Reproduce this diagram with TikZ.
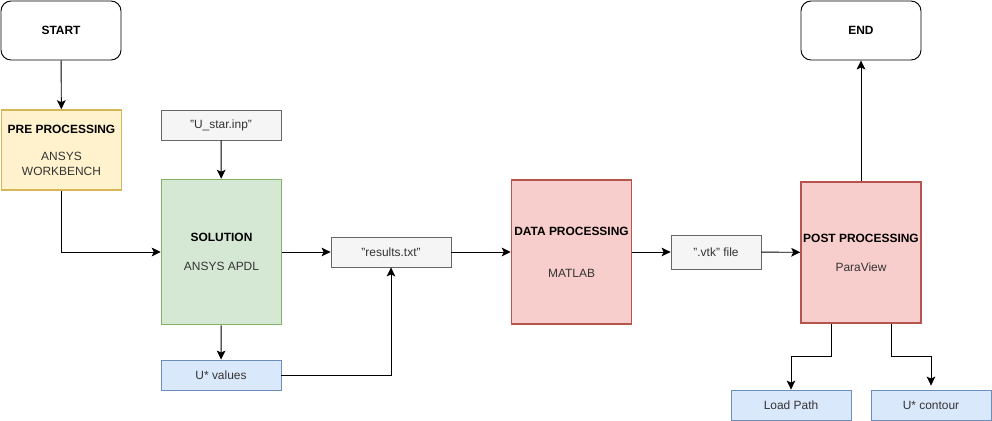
\documentclass[tikz,border=0pt]{standalone}
\usepackage{fontspec}
\setmainfont{Liberation Sans}
\usepackage{tikz}
\usetikzlibrary{arrows.meta, positioning}

\definecolor{yellowfill}{HTML}{FFF2CC}
\definecolor{yellowline}{HTML}{D6B656}
\definecolor{greenfill}{HTML}{D5E8D4}
\definecolor{greenline}{HTML}{82B366}
\definecolor{redfill}{HTML}{F8CECC}
\definecolor{redline}{HTML}{B85450}
\definecolor{bluefill}{HTML}{DAE8FC}
\definecolor{blueline}{HTML}{6C8EBF}
\definecolor{grayfill}{HTML}{F5F5F5}
\definecolor{grayline}{HTML}{666666}
\definecolor{graytext}{HTML}{333333}

\begin{document}
\begin{tikzpicture}[x=0.3mm, y=-0.3mm, font=\fontsize{10.2}{12.8}\selectfont]
        % Setup the styles for the boxes
        \tikzset{box style/.style={rectangle,
                                   draw,
                                   inner sep=0pt,
                                   align=center,
                                   minimum width=36mm,
                                   minimum height=9mm},
                 end style/.style={box style,
                                   rounded corners=3mm,
                                   minimum height=17.7mm,
                                   line width=0.8pt},
                 step style/.style={box style,
                                    line width=1.3pt,
                                    text=graytext},
                 file style/.style={box style,
                                    line width=0.7pt,
                                    draw=grayline,
                                    fill=grayfill,
                                    text=graytext},
                 out style/.style={box style,
                                   line width=0.7pt,
                                   draw=blueline,
                                   fill=bluefill,
                                   text=graytext},
                 arrow style/.style={line width=0.8pt,
                                     -{Stealth[length=2.7mm, width=2.6mm, inset=0.6mm]}}}

        \useasboundingbox (0,0) rectangle (992,421);

        % Draw the boxes
        \node[end style] at (61,30.5) (start) {\textbf{START}};
        \node[end style] at (861,30.5) (finish) {\textbf{END}};
        \node[step style, draw=yellowline, fill=yellowfill, minimum height=24mm] at (61.5,150) (pre)
            {\textcolor{black}{\textbf{PRE PROCESSING}}\\[3.6mm]ANSYS\\WORKBENCH};
        \node[file style] at (221,125) (ustar) {"U\_star.inp"};
        \node[step style, draw=greenline, fill=greenfill, minimum height=43.5mm] at (221.5,252) (solution)
            {\textcolor{black}{\textbf{SOLUTION}}\\[4.2mm]ANSYS APDL};
        \node[out style] at (221,375) (uvalues) {U* values};
        \node[file style] at (391,252) (results) {"results.txt"};
        \node[step style, draw=redline, fill=redfill, minimum height=43.2mm] at (571.5,252) (data)
            {\textcolor{black}{\textbf{DATA PROCESSING}}\\[8.1mm]MATLAB};
        \node[file style, minimum width=27mm, minimum height=10.2mm] at (716,252) (vtk) {".vtk" file};
        \node[step style, draw=redline, fill=redfill, minimum height=42.3mm] at (861,252.5) (post)
            {\textcolor{black}{\textbf{POST PROCESSING}}\\[4.2mm]ParaView};
        \node[out style] at (791,405) (loadpath) {Load Path};
        \node[out style] at (931,405) (contour) {U* contour};

        % Connect the boxes with arrows
        \draw[arrow style]
            (start)     edge            (pre)
            (ustar)     edge            (solution)
            (solution)  edge            (results)
            (solution)  edge            (uvalues)
            (results)   edge            (data)
            (data)      edge            (vtk)
            (vtk)       edge            (post)
            (post)      edge            (finish);
        \draw[arrow style] (pre.south) |- (solution.west);
        \draw[arrow style] (uvalues.east) -| (results.south);
        \draw[arrow style] ([xshift=-9mm]post.south) -- ++(0,33) -| (loadpath.north);
        \draw[arrow style, shorten >=1.2mm] ([xshift=9mm]post.south) -- ++(0,33) -| (contour.north);
\end{tikzpicture}
\end{document}
